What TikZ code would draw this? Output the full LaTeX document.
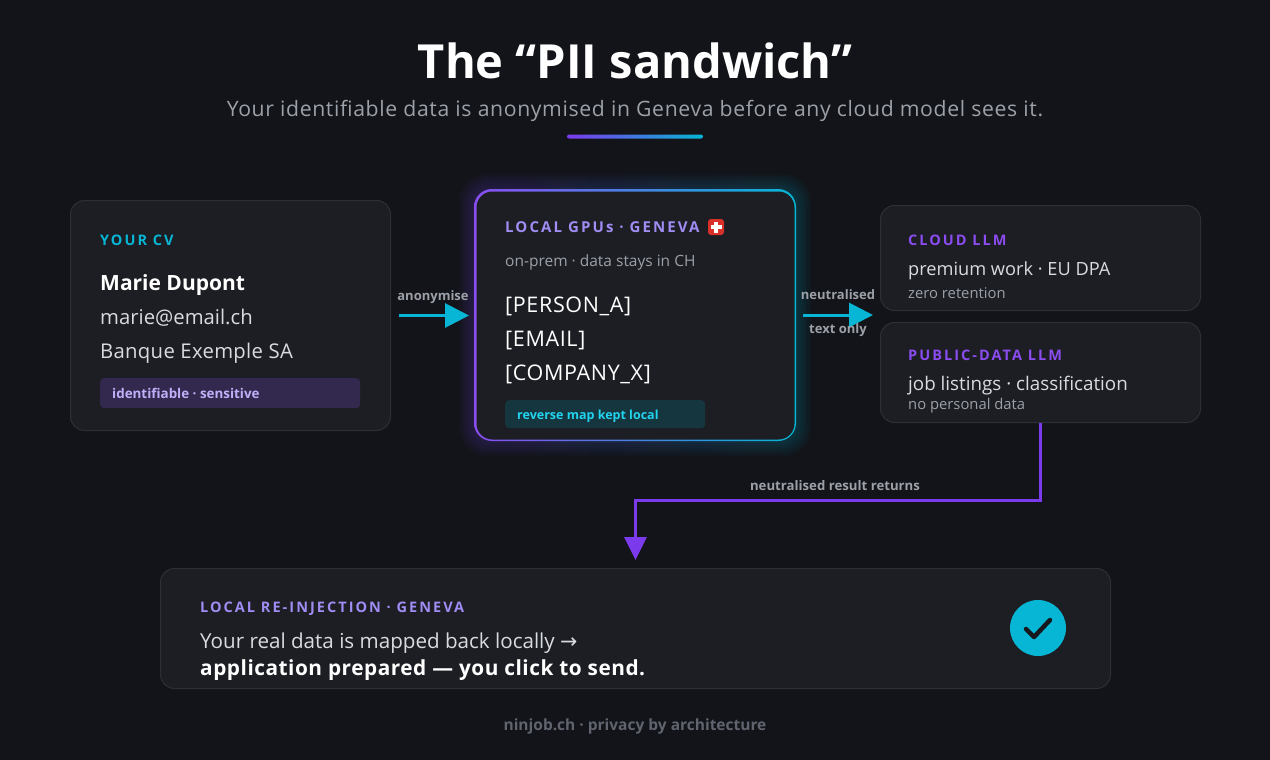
\documentclass[tikz,border=0pt]{standalone}
\usepackage{fontspec}
\setmainfont{Open Sans}
\newfontfamily\capsf[LetterSpace=14]{Open Sans}
\newfontfamily\symf{DejaVu Sans}
\usetikzlibrary{arrows.meta,shadings}
\definecolor{bg}{HTML}{121419}
\definecolor{cardbg}{HTML}{1C1E24}
\definecolor{cardline}{HTML}{2C2F37}
\definecolor{cyanA}{HTML}{06B6D4}
\definecolor{cyanT}{HTML}{22D3EE}
\definecolor{purpA}{HTML}{7C3AED}
\definecolor{purpH}{HTML}{8B4CF0}
\definecolor{lav}{HTML}{A08CF2}
\definecolor{lavT}{HTML}{C0AEF8}
\definecolor{tagP}{HTML}{33294F}
\definecolor{tagC}{HTML}{16363F}
\definecolor{lightT}{HTML}{D8DBE0}
\definecolor{grayT}{HTML}{9CA0A8}
\definecolor{footT}{HTML}{60646E}
\definecolor{flagR}{HTML}{D9302A}
\definecolor{checkD}{HTML}{16181D}
\tikzset{
  txt/.style={inner sep=0pt, anchor=base west},
  ctxt/.style={inner sep=0pt, anchor=base},
  card/.style={draw=cardline, fill=cardbg, rounded corners=14pt, line width=1pt, inner sep=0pt, anchor=north west},
  tagbox/.style={rounded corners=4pt, inner sep=0pt, anchor=north west},
}
\begin{document}
\begin{tikzpicture}[x=1pt,y=-1pt]
\fill[bg] (0,0) rectangle (1270,760);
\useasboundingbox (0,0) rectangle (1270,760);

% title
\node[ctxt, text=white, font=\fontsize{47}{50}\selectfont\bfseries] (title) at (635,79) {The “PII sandwich”};
\node[ctxt, text=grayT, font=\fontsize{21.2}{25}\selectfont\addfontfeature{LetterSpace=3}] (sub) at (635,117) {Your identifiable data is anonymised in Geneva before any cloud model sees it.};
\shade[left color=purpA, right color=cyanA, rounded corners=2pt] (567,134.5) rectangle (703,138.5);

% left card
\node[card, minimum width=320pt, minimum height=230pt] (cv) at (70,200) {};
\node[txt, text=cyanA, font=\fontsize{14.5}{16}\capsf\bfseries] (cvh) at (100,245) {YOUR CV};
\node[txt, text=white, font=\fontsize{21}{24}\selectfont\bfseries] (cvn) at (100,290) {Marie Dupont};
\node[txt, text=lightT, font=\fontsize{20.3}{24}\selectfont] (cve) at (100,324) {marie@email.ch};
\node[txt, text=lightT, font=\fontsize{20.3}{24}\selectfont\addfontfeature{LetterSpace=1.5}] (cvc) at (100,358) {Banque Exemple SA};
\node[tagbox, fill=tagP, minimum width=260pt, minimum height=30pt] (cvtag) at (100,378) {};
\node[txt, text=lavT, font=\fontsize{13.4}{16}\selectfont\bfseries] (cvtagt) at (112,398) {identifiable · sensitive};

% middle card glow + gradient border
\foreach \i in {1,...,7}{
  \shade[left color=purpA, right color=cyanA, opacity=0.03, rounded corners={18pt+\i*1.5pt}]
    (474-\i*2.2,189-\i*2.2) rectangle (796+\i*2.2,441+\i*2.2);
}
\shade[left color=purpA!90!white, right color=cyanA, rounded corners=18pt] (474,189) rectangle (796,441);
\node[card, draw=none, fill=cardbg, rounded corners=16pt, minimum width=318pt, minimum height=248pt] (gpu) at (476,191) {};
\node[txt, text=lav, font=\fontsize{15}{17}\capsf\bfseries] (gpuh) at (505,232) {LOCAL GPUs · GENEVA};
\node[fill=flagR, rounded corners=3pt, minimum size=16pt, inner sep=0pt] (flag) at (716,227) {};
\fill[white] ([shift={(-5.5,-1.8)}]flag.center) rectangle ([shift={(5.5,1.8)}]flag.center);
\fill[white] ([shift={(-1.8,-5.5)}]flag.center) rectangle ([shift={(1.8,5.5)}]flag.center);
\node[txt, text=grayT, font=\fontsize{15.5}{17}\selectfont] (gpus) at (505,266) {on-prem · data stays in CH};
\node[txt, text=white, font=\fontsize{21.5}{24}\selectfont\addfontfeature{LetterSpace=3}] (p1) at (505,312) {[PERSON\_A]};
\node[txt, text=white, font=\fontsize{21.5}{24}\selectfont\addfontfeature{LetterSpace=3}] (p2) at (505,346) {[EMAIL]};
\node[txt, text=white, font=\fontsize{21.5}{24}\selectfont\addfontfeature{LetterSpace=3}] (p3) at (505,380) {[COMPANY\_X]};
\node[tagbox, fill=tagC, minimum width=200pt, minimum height=28pt] (gputag) at (505,400) {};
\node[txt, text=cyanT, font=\fontsize{12.5}{15}\selectfont\bfseries] (gputagt) at (517,419) {reverse map kept local};

% right cards
\node[card, minimum width=320pt, minimum height=105pt] (cloud) at (880,205) {};
\node[txt, text=purpH, font=\fontsize{14.5}{16}\capsf\bfseries] (cloudh) at (908,245) {CLOUD LLM};
\node[txt, text=lightT, font=\fontsize{18.2}{21}\selectfont] (cloud1) at (908,275) {premium work · EU DPA};
\node[txt, text=grayT, font=\fontsize{14.8}{16}\selectfont] (cloud2) at (908,298) {zero retention};

\node[card, minimum width=320pt, minimum height=100pt] (pub) at (880,322) {};
\node[txt, text=purpH, font=\fontsize{14.5}{16}\capsf\bfseries] (pubh) at (908,360) {PUBLIC-DATA LLM};
\node[txt, text=lightT, font=\fontsize{18.8}{21}\selectfont] (pub1) at (908,390) {job listings · classification};
\node[txt, text=grayT, font=\fontsize{14.8}{16}\selectfont] (pub2) at (908,409) {no personal data};

% bottom card
\node[card, minimum width=950pt, minimum height=120pt] (rein) at (160,568) {};
\node[txt, text=lav, font=\fontsize{14.5}{16}\capsf\bfseries] (reinh) at (200,612) {LOCAL RE-INJECTION · GENEVA};
\node[txt, text=lightT, font=\fontsize{20.6}{24}\selectfont] (rein1) at (200,648) {Your real data is mapped back locally {\symf →}};
\node[txt, text=white, font=\fontsize{20.8}{24}\selectfont\bfseries\addfontfeature{LetterSpace=2.5}] (rein2) at (200,675) {application prepared — you click to send.};
\node[circle, fill=cyanA, minimum size=56pt, inner sep=0pt] (ok) at (1038,628) {};
\draw[checkD, line width=4.5pt, line cap=round, line join=round]
  ([shift={(-12,1)}]ok.center) -- ([shift={(-4,9)}]ok.center) -- ([shift={(12,-8)}]ok.center);

% arrows
\draw[cyanA, line width=3pt, -{Triangle[length=24pt,width=24pt]}]
  ([xshift=8pt]cv.east) -- ([xshift=-7pt]gpu.west);
\node[ctxt, text=grayT, font=\fontsize{13}{15}\selectfont\bfseries] (l1) at (433,300) {anonymise};
\coordinate (nstart) at ([xshift=8pt]gpu.east);
\coordinate (nend) at (873,315);
\draw[cyanA, line width=3pt, -{Triangle[length=24pt,width=24pt]}] (nstart |- nend) -- (nend);
\node[ctxt, text=grayT, font=\fontsize{13}{15}\selectfont\bfseries] (l2) at (838,299) {neutralised};
\node[ctxt, text=grayT, font=\fontsize{13}{15}\selectfont\bfseries] (l3) at (838,333) {text only};

\coordinate (ret) at (835,500);
\draw[purpA, line width=3pt, -{Triangle[length=23pt,width=22pt]}]
  (pub.south) |- (ret) -| ([yshift=8pt]rein.north);
\node[ctxt, text=grayT, font=\fontsize{13.2}{15}\selectfont\bfseries] (l4) at (835,490) {neutralised result returns};

% footer
\node[ctxt, text=footT, font=\fontsize{15.5}{17}\selectfont\bfseries] (foot) at (635,730) {ninjob.ch · privacy by architecture};
\end{tikzpicture}
\end{document}
